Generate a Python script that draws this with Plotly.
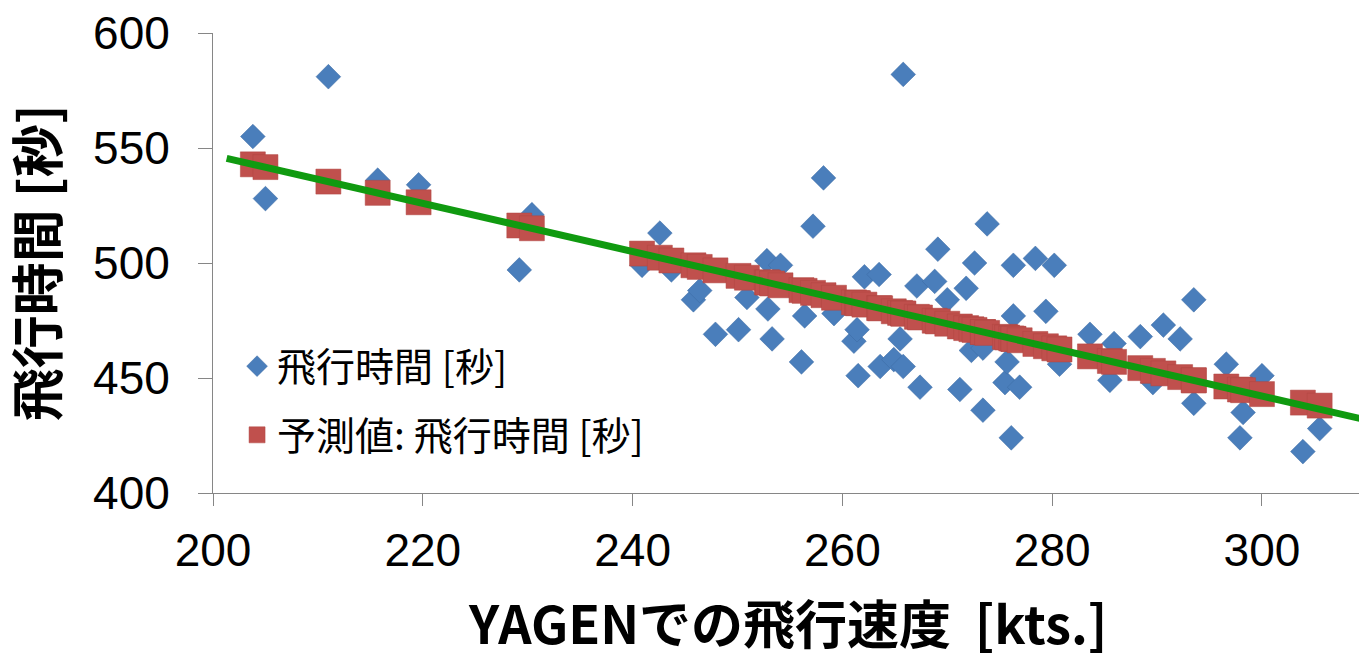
import plotly.graph_objects as go

# Observed: YAGEN speed [kts.] vs flight time [s]
speed = [203.8, 205.0, 211.0, 215.7, 219.6, 229.2, 230.4, 240.9, 242.6, 243.7,
         245.8, 246.4, 247.9, 250.1, 250.9, 252.8, 252.9, 253.3, 254.1, 256.1,
         256.4, 257.2, 258.2, 259.2, 261.1, 261.4, 261.5, 262.1, 263.5, 263.6,
         264.9, 265.5, 265.8, 265.8, 267.1, 267.4, 268.8, 269.1, 270.0, 271.2,
         271.8, 272.3, 272.6, 273.4, 273.4, 273.8, 275.5, 275.7, 276.1, 276.3,
         276.3, 276.9, 278.4, 279.4, 280.2, 280.7, 283.6, 285.5, 285.9, 288.4,
         289.6, 290.6, 292.2, 293.5, 293.5, 296.6, 297.9, 298.2, 300.0, 303.9,
         305.5]
flight_time = [555, 528, 581, 536, 534, 497, 521, 499, 513, 497,
               484, 488, 469, 471, 485, 501, 480, 467, 499, 457,
               477, 516, 537, 478, 466, 471, 451, 494, 495, 455,
               458, 467, 455, 582, 490, 446, 492, 506, 484, 445,
               489, 462, 500, 463, 436, 517, 448, 457, 424, 477,
               499, 446, 502, 479, 499, 456, 469, 449, 465, 468,
               448, 473, 467, 484, 439, 456, 424, 435, 451, 418,
               428]
# Predicted flight time (red squares)
predicted = [542.9, 541.7, 535.4, 530.5, 526.4, 516.3, 515.1, 504.1, 502.3, 501.1,
             499.0, 498.3, 496.8, 494.4, 493.6, 491.6, 491.5, 491.1, 490.3, 488.2,
             487.9, 487.0, 486.0, 484.9, 482.9, 482.6, 482.5, 481.9, 480.4, 480.3,
             479.0, 478.3, 478.0, 478.0, 476.6, 476.3, 474.9, 474.6, 473.6, 472.4,
             471.7, 471.2, 470.9, 470.0, 470.0, 469.6, 467.9, 467.6, 467.2, 467.0,
             467.0, 466.4, 464.8, 463.8, 462.9, 462.4, 459.4, 457.4, 457.0, 454.3,
             453.1, 452.0, 450.4, 449.0, 449.0, 446.3, 445.0, 444.7, 443.0, 439.3,
             438.0]
# Trend line end points
trend_x = [201.3, 310.0]
trend_y = [545.5, 431.7]

x_ticks = [200, 220, 240, 260, 280, 300]
y_ticks = [400, 450, 500, 550, 600]
x_title = "<b>YAGENでの飛行速度  [kts.]</b>"
y_title = "<b>飛行時間 [秒]</b>"

LAT = "Liberation Sans, Arial, sans-serif"
JP = "Noto Sans CJK JP, Liberation Sans, sans-serif"

fig = go.Figure()
fig.add_trace(go.Scatter(
    x=speed, y=flight_time, mode="markers", name="飛行時間 [秒]",
    legendgroup="a",
    marker=dict(symbol="diamond", size=19, color="#4A7EBB",
                line=dict(width=0.5, color="#3C6AA3"))))
fig.add_trace(go.Scatter(
    x=speed, y=predicted, mode="markers", name="予測値: 飛行時間 [秒]",
    legendgroup="b",
    marker=dict(symbol="square", size=25, color="#C0504D",
                line=dict(width=0.5, color="#B04643"))))
fig.add_trace(go.Scatter(
    x=trend_x, y=trend_y, mode="lines", showlegend=False,
    line=dict(color="#109A10", width=7)))

fig.update_layout(
    width=1359, height=657,
    margin=dict(l=213, r=0, t=33, b=164),
    paper_bgcolor="white", plot_bgcolor="white",
    font=dict(family=JP, color="black"),
    showlegend=True,
    legend=dict(x=0.021, y=0.345, xanchor="left", yanchor="top",
                bgcolor="rgba(0,0,0,0)", font=dict(family=JP, size=39),
                tracegroupgap=15, itemwidth=30),
    xaxis=dict(range=[200, 309.25], tickvals=x_ticks, showgrid=False,
               zeroline=False, showline=True, linecolor="#868686", linewidth=1,
               ticks="outside", ticklen=12, tickcolor="#868686",
               ticklabelstandoff=5, automargin=False,
               tickfont=dict(family=LAT, size=46)),
    yaxis=dict(range=[400, 600], tickvals=y_ticks, showgrid=False,
               zeroline=False, showline=True, linecolor="#868686", linewidth=1,
               ticks="outside", ticklen=14, tickcolor="#868686",
               ticklabelstandoff=19, automargin=False,
               tickfont=dict(family=LAT, size=46)),
    annotations=[
        dict(text=x_title, xref="paper", yref="paper", x=0.502, y=-0.280,
             xanchor="center", yanchor="middle", showarrow=False,
             font=dict(family=JP, size=52, color="black")),
        dict(text=y_title, xref="paper", yref="paper", x=-0.155, y=0.5,
             xanchor="center", yanchor="middle", showarrow=False,
             textangle=-90, font=dict(family=JP, size=53, color="black")),
    ],
)

fig.write_html("out.html", config={"displayModeBar": False},
               post_script="document.body.style.margin='0';")
